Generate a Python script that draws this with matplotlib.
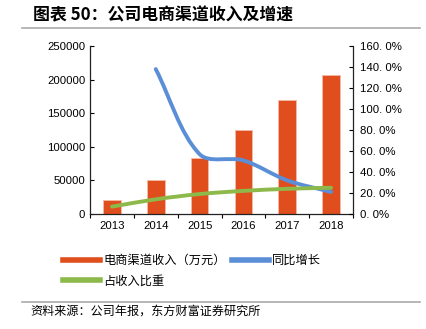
import numpy as np
import matplotlib.pyplot as plt
from matplotlib.path import Path
from matplotlib.patches import PathPatch
from matplotlib.lines import Line2D
from matplotlib.ticker import FuncFormatter, FixedLocator

plt.rcParams['font.family'] = ['Liberation Sans', 'Noto Sans CJK SC', 'DejaVu Sans']

years = ["2013", "2014", "2015", "2016", "2017", "2018"]
revenue = [20800, 50600, 82900, 125000, 169200, 206800]      # 电商渠道收入（万元）
yoy = [None, 138.0, 57.0, 51.0, 32.0, 21.0]                  # 同比增长 %
share = [7.0, 14.0, 19.0, 22.0, 24.0, 25.0]                  # 占收入比重 %

RED = "#E04E1E"
BLUE = "#5A8FD8"
GREEN = "#8DB94A"
CJK = ['Noto Sans CJK SC', 'DejaVu Sans']


def smooth_path(axis, xs, ys):
    # smoothed line like a spreadsheet chart: bezier segments whose handles
    # are scaled by the on-screen chord lengths
    pts = axis.transData.transform(np.column_stack([xs, ys]).astype(float))
    n = len(pts)
    verts = [pts[0]]
    codes = [Path.MOVETO]
    for i in range(n - 1):
        p0 = pts[i - 1] if i > 0 else pts[i]
        p1 = pts[i]
        p2 = pts[i + 1]
        p3 = pts[i + 2] if i + 2 < n else pts[i + 1]
        d01 = np.hypot(*(p1 - p0))
        d12 = np.hypot(*(p2 - p1))
        d23 = np.hypot(*(p3 - p2))
        c1 = p1 + (p2 - p0) * d12 / (d01 + d12) / 3.0
        c2 = p2 - (p3 - p1) * d12 / (d12 + d23) / 3.0
        verts += [c1, c2, p2]
        codes += [Path.CURVE4] * 3
    verts = axis.transData.inverted().transform(np.array(verts))
    return Path(verts, codes)


fig = plt.figure(figsize=(4.26, 3.29), dpi=100)
ax = fig.add_axes([90 / 426, 1 - 214 / 329, (353 - 90) / 426, (214 - 46) / 329])
ax2 = ax.twinx()

x = np.arange(len(years))
ax.bar(x, revenue, width=0.4, color=RED, edgecolor="#F5B8A8", linewidth=0.6, zorder=2)
ax.set_xlim(-0.5, len(years) - 0.5)
ax.set_ylim(0, 250000)
ax.set_yticks(np.arange(0, 250001, 50000))
ax.set_xticks(x)
ax.set_xticklabels(years)
ax.xaxis.set_minor_locator(FixedLocator(np.arange(-0.5, len(years), 1.0)))
ax.tick_params(axis='x', which='major', length=0, labelsize=8.2, pad=5)
ax.tick_params(axis='x', which='minor', length=3, direction='out', width=0.8)
ax.tick_params(axis='y', length=3, direction='in', labelsize=8.2, width=0.8)

ax2.set_xlim(-0.5, len(years) - 0.5)
ax2.set_ylim(0, 160)
ax2.set_yticks(np.arange(0, 161, 20))
ax2.yaxis.set_major_formatter(FuncFormatter(lambda v, p: f"{v:.0f}. 0%"))
ax2.tick_params(axis='y', length=3, direction='in', labelsize=8.2, width=0.8, pad=5)

gx = [xi for xi, v in zip(x, yoy) if v is not None]
gy = [v for v in yoy if v is not None]
ax2.add_patch(PathPatch(smooth_path(ax2, gx, gy), facecolor='none', edgecolor=BLUE,
                        linewidth=2.8, capstyle='round', zorder=3))
ax2.add_patch(PathPatch(smooth_path(ax2, x, share), facecolor='none', edgecolor=GREEN,
                        linewidth=2.8, capstyle='round', zorder=3))

for a in (ax, ax2):
    a.spines['top'].set_visible(False)
    for s in a.spines.values():
        s.set_linewidth(0.9)
        s.set_color("#222222")
ax.spines['right'].set_visible(False)
ax2.spines['left'].set_visible(False)
ax2.spines['bottom'].set_visible(False)

# legend fills column by column: red, green in the first column, blue in the second
handles = [Line2D([], [], color=RED, lw=4), Line2D([], [], color=GREEN, lw=4),
           Line2D([], [], color=BLUE, lw=4)]
labels = ["电商渠道收入（万元）", "占收入比重", "同比增长"]
fig.legend(handles, labels, loc='upper left', bbox_to_anchor=(52 / 426, 1 - 243 / 329),
           ncol=2, frameon=False, handlelength=3.0, handletextpad=0.3,
           columnspacing=0.5, labelspacing=0.6, prop={'family': CJK, 'size': 8.8})

fig.text(33 / 426, 1 - 15 / 329, "图表 50：公司电商渠道收入及增速", fontsize=12.2,
         fontweight='bold', family=CJK, va='center', ha='left')
fig.add_artist(Line2D([22 / 426, 420 / 426], [1 - 28 / 329, 1 - 28 / 329],
                      color="#AAAAAA", lw=1.2))
fig.add_artist(Line2D([22 / 426, 420 / 426], [1 - 302 / 329, 1 - 302 / 329],
                      color="#AAAAAA", lw=1.2))
fig.text(30 / 426, 1 - 311 / 329, "资料来源：公司年报，东方财富证券研究所", fontsize=8.7,
         family=CJK, va='center', ha='left')

fig.savefig("out.png", dpi=100)
